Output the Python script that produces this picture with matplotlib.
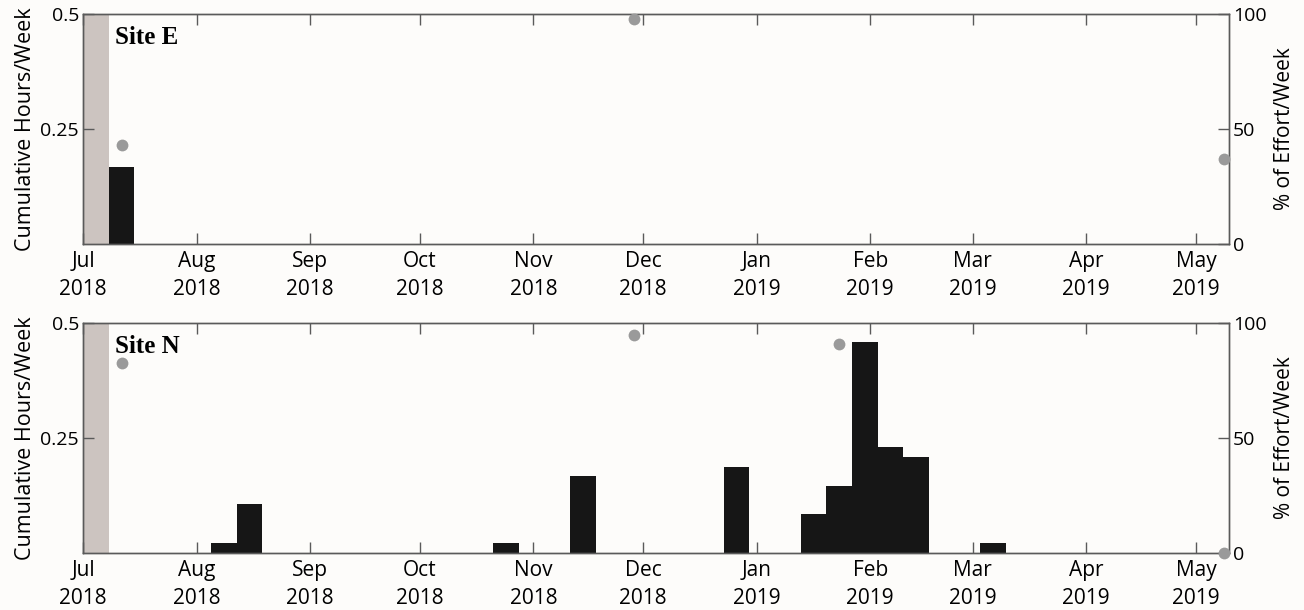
import numpy as np
import pandas as pd
import matplotlib
matplotlib.use('Agg')
import matplotlib.pyplot as plt
import matplotlib.dates as mdates

plt.rcParams['font.family'] = ['Open Sans', 'DejaVu Sans']

# weekly bins (start dates) with detections, hours/week
site_e_weeks = ['2018-07-08']
site_e_hours = [0.167]
site_n_weeks = ['2018-08-05', '2018-08-12', '2018-10-21', '2018-11-11', '2018-12-23',
                '2019-01-13', '2019-01-20', '2019-01-27', '2019-02-03', '2019-02-10',
                '2019-03-03']
site_n_hours = [0.022, 0.107, 0.022, 0.167, 0.187, 0.085, 0.146, 0.459, 0.230, 0.209, 0.022]

# % of recording effort for partial weeks (week start dates)
site_e_eff_weeks = ['2018-07-08', '2018-11-25', '2019-05-05']
site_e_eff = [43, 98, 37]
site_n_eff_weeks = ['2018-07-08', '2018-11-25', '2019-01-20', '2019-05-05']
site_n_eff = [82.6, 94.8, 90.9, 0]

no_effort = ('2018-07-01', '2018-07-08')
sites = ['Site E', 'Site N']

bg = '#fdfcfa'
spine_c = '#5a5a5a'
week = pd.Timedelta(days=7)

fig = plt.figure(figsize=(13.04, 6.10), dpi=100, facecolor=bg)
ax1 = fig.add_axes([0.0637, 0.600, 0.8788, 0.377])
ax2 = fig.add_axes([0.0637, 0.0934, 0.8788, 0.377])

data = [(ax1, site_e_weeks, site_e_hours, site_e_eff_weeks, site_e_eff),
        (ax2, site_n_weeks, site_n_hours, site_n_eff_weeks, site_n_eff)]

for i, (ax, wk, hrs, ewk, eff) in enumerate(data):
    ax.set_facecolor(bg)
    ax.axvspan(pd.Timestamp(no_effort[0]), pd.Timestamp(no_effort[1]), color='#ccc4c0', lw=0, zorder=1)
    ax.bar(pd.to_datetime(wk), hrs, width=7, align='edge', color='#161616', lw=0, zorder=2)
    ax.set_ylim(0, 0.5)
    ax.set_yticks([0.25, 0.5])
    ax.set_yticklabels(['0.25', '0.5'])
    ax.set_xlim(pd.Timestamp('2018-07-01'), pd.Timestamp('2019-05-10'))
    ax.xaxis.set_major_locator(mdates.MonthLocator())
    ax.xaxis.set_major_formatter(mdates.DateFormatter('%b\n%Y'))
    ax.tick_params(axis='x', direction='in', length=8, width=1, color=spine_c,
                   top=True, labelsize=15, pad=5)
    ax.tick_params(axis='y', direction='in', length=8, width=1, color=spine_c,
                   right=False, labelsize=14, pad=3)
    for lab in ax.get_xticklabels():
        lab.set_linespacing(1.45)
    ax.set_ylabel('Cumulative Hours/Week', fontsize=15.5, labelpad=3)
    for s in ax.spines.values():
        s.set_color(spine_c)
        s.set_linewidth(1)
    ax.text(0.028, 0.95, sites[i], transform=ax.transAxes, ha='left', va='top',
            fontsize=18, fontweight='bold', family='Liberation Serif', zorder=5)

    ax_r = ax.twinx()
    ax_r.set_ylim(0, 100)
    ax_r.set_yticks([0, 50, 100])
    ax_r.plot(pd.to_datetime(ewk) + week / 2, eff, 'o', color='#9a9a9a',
              markersize=8.5, markeredgewidth=0, clip_on=False, zorder=3)
    ax_r.tick_params(axis='y', direction='in', length=8, width=1, color=spine_c,
                     labelsize=14, pad=3)
    ax_r.set_ylabel('% of Effort/Week', fontsize=15, labelpad=5)
    for s in ax_r.spines.values():
        s.set_color(spine_c)
        s.set_linewidth(1)

fig.savefig('out.png', dpi=100, facecolor=bg)
